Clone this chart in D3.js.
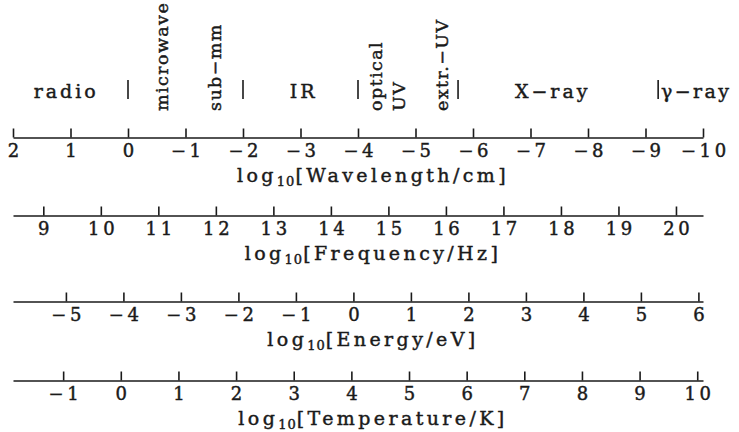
<!DOCTYPE html>
<html>
<head>
<meta charset="utf-8">
<script src="https://cdn.jsdelivr.net/npm/d3@7"></script>
<style>
  html, body { margin: 0; padding: 0; background: #fff; }
  svg { display: block; }
  text { font-family: "DejaVu Serif", serif; fill: #1a1a1a; stroke: #1a1a1a; stroke-width: 0.45px; }
</style>
</head>
<body>
<svg id="chart" width="739" height="432"></svg>
<script>
// ---------------- data ----------------
const axisTitles = ["Wavelength/cm", "Frequency/Hz", "Energy/eV", "Temperature/K"];
const wavelengthTicks = [2, 1, 0, -1, -2, -3, -4, -5, -6, -7, -8, -9, -10];
const frequencyTicks = [9, 10, 11, 12, 13, 14, 15, 16, 17, 18, 19, 20];
const energyTicks = [-5, -4, -3, -2, -1, 0, 1, 2, 3, 4, 5, 6];
const temperatureTicks = [-1, 0, 1, 2, 3, 4, 5, 6, 7, 8, 9, 10];
// value at left and right end of each scale
const wavelengthDomain = [2, -10];
const frequencyDomain = [8.473, 20.47];
const energyDomain = [-5.92, 6.08];
const temperatureDomain = [-1.87, 10.1];

// spectral bands (positions in log10 wavelength / cm)
const bandNames = ["radio", "IR", "X−ray"];
const bandCenters = [1.1, -3.03, -7.36];
const verticalBandNames = ["microwave", "sub−mm", "optical", "UV", "extr.−UV"];
const verticalBandPositions = [-0.70, -1.62, -4.42, -4.82, -5.57];
const bandBoundaries = [0, -2, -4, -5.74, -9.22];
const gammaName = "γ−ray";
const gammaStart = -9.27;

// ---------------- layout ----------------
const svg = d3.select("#chart");
const xRange = [13, 703];
const axisY = [137.5, 215.5, 301.5, 380.5];
const ink = "#1a1a1a";

const scales = [wavelengthDomain, frequencyDomain, energyDomain, temperatureDomain]
  .map(dom => d3.scaleLinear().domain(dom).range(xRange));
const tickSets = [wavelengthTicks, frequencyTicks, energyTicks, temperatureTicks];

const fmt = d => d < 0 ? "\u2212" + (-d) : String(d);

scales.forEach((sc, i) => {
  const g = svg.append("g").attr("transform", `translate(0,${axisY[i]})`);
  g.call(d3.axisBottom(sc).tickValues(tickSets[i]).tickSizeInner(-9).tickSizeOuter(0).tickFormat(fmt));
  g.select(".domain").attr("stroke", ink).attr("stroke-width", 1.6);
  g.selectAll(".tick line").attr("stroke", ink).attr("stroke-width", 1.6);
  g.selectAll(".tick text")
    .attr("y", 19).attr("dy", 0).attr("dx", 1.8)
    .attr("font-size", 18)
    .attr("letter-spacing", "3.6px").attr("fill", ink);
  g.attr("font-family", null).attr("font-size", null);

  const t = svg.append("text")
    .attr("x", 373).attr("y", axisY[i] + 44)
    .attr("text-anchor", "middle")
    .attr("font-size", 19).attr("letter-spacing", "3.4px");
  t.append("tspan").text("log");
  t.append("tspan").attr("font-size", 13).attr("dy", 4).attr("letter-spacing", "1px").text("10");
  t.append("tspan").attr("dy", -4).text("[" + axisTitles[i] + "]");
});

// band labels
const xw = scales[0];
svg.selectAll("text.band").data(bandNames).enter().append("text")
  .attr("class", "band")
  .attr("x", (d, i) => xw(bandCenters[i]) + 1.5)
  .attr("y", 98)
  .attr("text-anchor", "middle")
  .attr("font-size", 19).attr("letter-spacing", "3px")
  .text(d => d);

svg.selectAll("text.vband").data(verticalBandNames).enter().append("text")
  .attr("class", "vband")
  .attr("transform", (d, i) => `translate(${xw(verticalBandPositions[i])},111) rotate(-90)`)
  .attr("text-anchor", "start")
  .attr("font-size", 17.5).attr("letter-spacing", "1.4px")
  .text(d => d);

svg.selectAll("line.sep").data(bandBoundaries).enter().append("line")
  .attr("class", "sep")
  .attr("x1", d => xw(d)).attr("x2", d => xw(d))
  .attr("y1", 80).attr("y2", 99)
  .attr("stroke", ink).attr("stroke-width", 1.6);

svg.append("text")
  .attr("x", xw(gammaStart)).attr("y", 98)
  .attr("font-size", 19).attr("letter-spacing", "2.4px")
  .text(gammaName);
</script>
</body>
</html>
